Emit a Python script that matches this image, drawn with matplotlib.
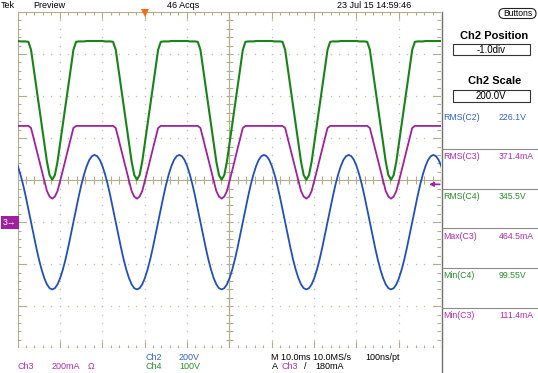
import numpy as np
import matplotlib.pyplot as plt
from matplotlib.collections import LineCollection
from matplotlib.patches import Rectangle, FancyBboxPatch

plt.rcParams['font.family'] = ['Liberation Sans', 'DejaVu Sans']

# one 20 ms cycle of each trace in divisions (32 points/cycle)
ch2_cycle = [-2.60, -2.57, -2.48, -2.33, -2.13, -1.89, -1.61, -1.31,
             -1.00, -0.69, -0.39, -0.11, 0.13, 0.33, 0.48, 0.57,
             0.60, 0.57, 0.48, 0.33, 0.13, -0.11, -0.39, -0.69,
             -1.00, -1.31, -1.61, -1.89, -2.13, -2.33, -2.48, -2.57]
ch3_cycle = [-0.44, -0.39, -0.26, -0.02, 0.23, 0.49, 0.74, 0.99,
             1.24, 1.29, 1.29, 1.29, 1.29, 1.29, 1.29, 1.29,
             1.29, 1.29, 1.29, 1.29, 1.29, 1.29, 1.29, 1.29,
             1.24, 0.99, 0.74, 0.49, 0.23, -0.02, -0.26, -0.39]
ch4_cycle = [0.01, 0.12, 0.44, 0.88, 1.33, 1.77, 2.21, 2.65,
             3.10, 3.29, 3.30, 3.30, 3.30, 3.31, 3.31, 3.31,
             3.31, 3.31, 3.31, 3.31, 3.30, 3.30, 3.30, 3.29,
             3.10, 2.65, 2.21, 1.77, 1.33, 0.88, 0.44, 0.12]
cycle_div = 2.0      # 20 ms at 10 ms/div
first_min = -0.18    # blue minimum closest to screen centre, div
n_cycles = 6

trig_pos = -2.0      # orange marker on top border
ch3_ground = -1.0    # "3" marker on the left
trig_level = -0.1    # 180 mA above ch3 ground

meas_names = ['RMS(C2)', 'RMS(C3)', 'RMS(C4)', 'Max(C3)', 'Min(C4)', 'Min(C3)']
meas_values = ['226.1V', '371.4mA', '345.5V', '464.5mA', '99.55V', '111.4mA']
meas_chan = ['C2', 'C3', 'C4', 'C3', 'C4', 'C3']

trace_col = {'C2': '#1f4fc0', 'C3': '#a0209f', 'C4': '#168416'}
text_col = {'C2': '#2f62d2', 'C3': '#b02cb0', 'C4': '#2a8f2a'}
grat = '#b5ab8a'
dots = '#c4bc9e'

fig = plt.figure(figsize=(5.38, 3.73), dpi=100)

# scope screen: 10 x 8 divisions
ax = fig.add_axes([17.5 / 538, (373 - 348.3) / 373, 423.5 / 538, 336.3 / 373])
ax.set_xlim(-5, 5)
ax.set_ylim(-4, 4)
ax.axis('off')

# dotted grid
for gx in range(-4, 5):
    if gx == 0:
        continue
    yy = np.arange(-3.8, 3.81, 0.2)
    ax.plot(np.full(len(yy), gx), yy, 's', ms=0.9, color=dots, mew=0)
for gy in range(-3, 4):
    if gy == 0:
        continue
    xx = np.arange(-4.8, 4.81, 0.2)
    ax.plot(xx, np.full(len(xx), gy), 's', ms=0.9, color=dots, mew=0)

# centre cross and border with tick marks
segs = []
for x in np.arange(-5, 5.01, 0.2):
    major = abs(x - round(x)) < 1e-6
    ln = 0.17 if major else 0.08
    segs.append([(x, -0.09), (x, 0.09)])
    segs.append([(x, 4), (x, 4 - ln)])
    segs.append([(x, -4), (x, -4 + ln)])
for y in np.arange(-4, 4.01, 0.2):
    major = abs(y - round(y)) < 1e-6
    ln = 0.2 if major else 0.09
    segs.append([(-0.08, y), (0.08, y)])
    segs.append([(-5, y), (-5 + ln, y)])
    segs.append([(5, y), (5 - ln, y)])
segs += [[(-5, 0), (5, 0)], [(0, -4), (0, 4)],
         [(-5, -4), (-5, 4)], [(-5, 4), (5, 4)], [(-5, -4), (5, -4)], [(5, -4), (5, 4)]]
ax.add_collection(LineCollection(segs, colors=grat, linewidths=0.8))

# traces
t = first_min - 3 * cycle_div + np.arange(n_cycles * 32 + 1) * cycle_div / 32
for cyc, ch, lw in [(ch2_cycle, 'C2', 1.3), (ch3_cycle, 'C3', 1.3), (ch4_cycle, 'C4', 1.5)]:
    v = np.append(np.tile(cyc, n_cycles), cyc[0])
    ax.plot(t, v, color=trace_col[ch], lw=lw, solid_joinstyle='round')

# markers
ax.plot([trig_pos], [4 - 0.03], marker='v', ms=5.5, color='#ff6a10', mew=0, clip_on=False)
ax.text(-5.02, ch3_ground, '3\u2192', ha='right', va='center', color='white', fontsize=6.3,
        bbox=dict(boxstyle='square,pad=0.22', fc=trace_col['C3'], ec='none'), clip_on=False)
ax.annotate('', xy=(4.72, trig_level), xytext=(4.97, trig_level),
            arrowprops=dict(arrowstyle='-|>', color=trace_col['C3'], lw=1.2,
                            mutation_scale=6, shrinkA=0, shrinkB=0))

# text overlay in pixel units
ov = fig.add_axes([0, 0, 1, 1], zorder=-1)
ov.set_xlim(0, 538)
ov.set_ylim(373, 0)
ov.axis('off')

fs = 6.5
ov.text(1, 6, 'Tek', va='center', fontsize=fs)
ov.text(33, 6, 'Preview', va='center', fontsize=fs)
ov.text(183, 6, '46 Acqs', va='center', ha='center', fontsize=fs)
ov.text(337, 6, '23 Jul 15 14:59:46', va='center', fontsize=fs)
ov.add_patch(FancyBboxPatch((499, 8.5), 37, 10, boxstyle='round,pad=0,rounding_size=5',
                            fc='white', ec='#222222', lw=0.8))
ov.text(517.5, 13.6, 'Buttons', ha='center', va='center', fontsize=6.2)

# right panel
ov.plot([441.5, 441.5], [12, 373], color='#707070', lw=1.0)
ov.text(494, 36, 'Ch2 Position', ha='center', va='center', fontsize=8, fontweight='bold')
ov.add_patch(Rectangle((452.7, 44.3), 77.3, 10.7, fc='white', ec='#333333', lw=0.8))
ov.text(491.3, 49.8, '-1.0div', ha='center', va='center', fontsize=7)
ov.text(495, 81, 'Ch2 Scale', ha='center', va='center', fontsize=8, fontweight='bold')
ov.add_patch(Rectangle((452.7, 90), 77.3, 11.7, fc='white', ec='#333333', lw=0.8))
ov.text(491.3, 96, '200.0V', ha='center', va='center', fontsize=7)

for i, (nm, val, ch) in enumerate(zip(meas_names, meas_values, meas_chan)):
    y = 117 + 39.7 * i
    ov.text(443.5, y, nm, va='center', fontsize=6.3, color=text_col[ch])
    ov.text(499, y, val, va='center', fontsize=6.3, color=text_col[ch])
    if i > 0:
        ov.plot([442, 538], [y - 7.7, y - 7.7], color='#8a8a8a', lw=0.8)

# status bar
r1, r2 = 357.5, 366.5
ov.text(145, r1, 'Ch2', va='center', fontsize=fs, color=text_col['C2'])
ov.text(179, r1, '200V', va='center', fontsize=fs, color=text_col['C2'])
ov.text(271, r1, 'M 10.0ms 10.0MS/s', va='center', fontsize=fs)
ov.text(365.5, r1, '100ns/pt', va='center', fontsize=fs)
ov.text(17.5, r2, 'Ch3', va='center', fontsize=fs, color=text_col['C3'])
ov.text(52, r2, '200mA', va='center', fontsize=fs, color=text_col['C3'])
ov.text(88, r2, '\u03a9', va='center', fontsize=fs, color=text_col['C3'])
ov.text(145, r2, 'Ch4', va='center', fontsize=fs, color=text_col['C4'])
ov.text(179, r2, '100V', va='center', fontsize=fs, color=text_col['C4'])
ov.text(272, r2, 'A', va='center', fontsize=fs)
ov.text(281.5, r2, 'Ch3', va='center', fontsize=fs, color=text_col['C3'])
ov.text(304, r2, '/', va='center', fontsize=fs)
ov.text(315, r2, '180mA', va='center', fontsize=fs)

fig.savefig('out.png', dpi=100, facecolor='white')
